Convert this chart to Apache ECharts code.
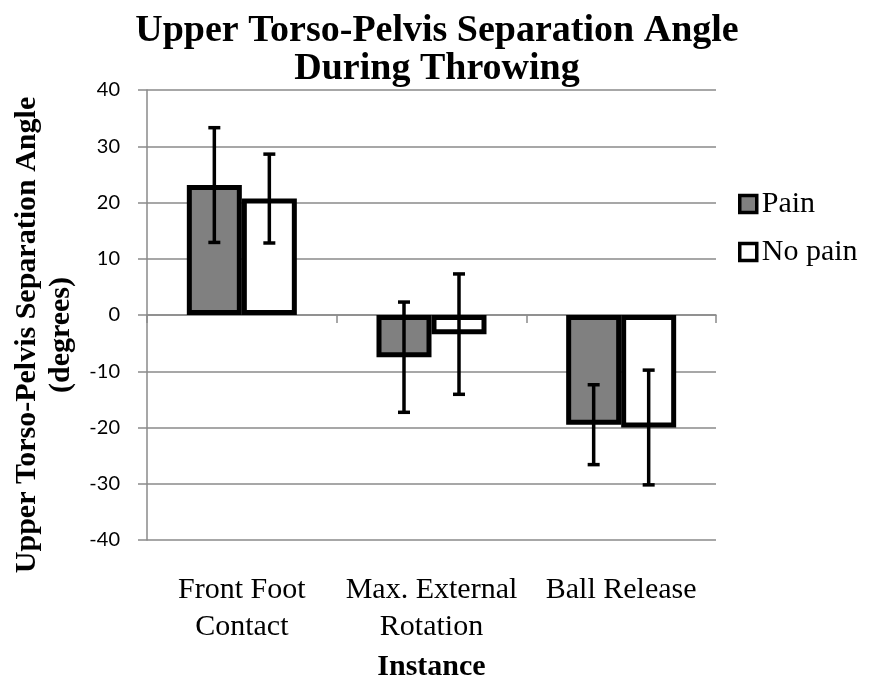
<!DOCTYPE html>
<html>
<head>
<meta charset="utf-8">
<script src="https://cdn.jsdelivr.net/npm/echarts@6/dist/echarts.min.js"></script>
<style>
html,body{margin:0;padding:0;background:#fff;}
#chart{width:870px;height:687px;}
</style>
</head>
<body>
<div id="chart"></div>
<script>
const categories = ['Front Foot\nContact', 'Max. External\nRotation', 'Ball Release'];
const seriesNames = ['Pain', 'No pain'];
const painMean = [23.1, -7.5, -19.5];
const painSD = [10.2, 9.8, 7.1];
const noPainMean = [20.7, -3.4, -20.0];
const noPainSD = [7.9, 10.7, 10.2];
const yTicks = [-40, -30, -20, -10, 0, 10, 20, 30, 40];

const GAP = 0.42;
const serif = '"Liberation Serif", "Times New Roman", serif';
const gridColor = '#8a8a8a';

const errData = [];
painMean.forEach((m, i) => errData.push([i, m, painSD[i], 0]));
noPainMean.forEach((m, i) => errData.push([i, m, noPainSD[i], 1]));

function renderErr(params, api) {
  const cat = api.value(0), mean = api.value(1), sd = api.value(2), s = api.value(3);
  const band = api.size([1, 0])[0];
  const barW = band * (1 - GAP) / 2;
  const off = (s === 0 ? -0.5 : 0.5) * barW;
  const top = api.coord([cat, mean + sd]);
  const bot = api.coord([cat, mean - sd]);
  const x = top[0] + off;
  const cap = 6;
  const st = { stroke: '#000', lineWidth: 3.5 };
  return {
    type: 'group',
    children: [
      { type: 'line', shape: { x1: x, y1: top[1], x2: x, y2: bot[1] }, style: st },
      { type: 'line', shape: { x1: x - cap, y1: top[1], x2: x + cap, y2: top[1] }, style: st },
      { type: 'line', shape: { x1: x - cap, y1: bot[1], x2: x + cap, y2: bot[1] }, style: st }
    ]
  };
}

const chart = echarts.init(document.getElementById('chart'));
chart.setOption({
  animation: false,
  backgroundColor: '#fff',
  title: {
    text: 'Upper Torso-Pelvis Separation Angle\nDuring Throwing',
    left: 432, textAlign: 'center', top: 7,
    textStyle: { fontFamily: serif, fontWeight: 'bold', fontSize: 38, lineHeight: 38, color: '#000' }
  },
  legend: {
    orient: 'vertical', left: 733, top: 184, itemWidth: 17, itemHeight: 17, itemGap: 18,
    textStyle: { fontFamily: serif, fontSize: 30, color: '#000' },
    data: [
      { name: seriesNames[0], icon: 'rect', itemStyle: { color: '#808080', borderColor: '#000', borderWidth: 3.5 } },
      { name: seriesNames[1], icon: 'rect', itemStyle: { color: '#fff', borderColor: '#000', borderWidth: 3.5 } }
    ]
  },
  grid: { left: 147, right: 154, top: 90, bottom: 145, containLabel: false },
  xAxis: [
    {
      type: 'category', data: categories, position: 'bottom',
      axisLine: { onZero: true, lineStyle: { color: gridColor, width: 1.5 } },
      axisTick: { show: true, length: 8, lineStyle: { color: gridColor, width: 1.5 } },
      axisLabel: { show: false }
    },
    {
      type: 'category', data: categories, position: 'bottom',
      axisLine: { show: false, onZero: false }, axisTick: { show: false },
      axisLabel: { margin: 32, fontFamily: serif, fontSize: 30, lineHeight: 37, color: '#000', interval: 0 },
      name: 'Instance', nameLocation: 'middle', nameGap: 112,
      nameTextStyle: { fontFamily: serif, fontWeight: 'bold', fontSize: 30, color: '#000' }
    }
  ],
  yAxis: {
    type: 'value', min: -40, max: 40, interval: 10,
    axisLine: { show: true, lineStyle: { color: gridColor, width: 1.5 } },
    axisTick: { show: true, length: 9, lineStyle: { color: gridColor, width: 1.5 } },
    splitLine: { show: true, lineStyle: { color: gridColor, width: 1.5 } },
    axisLabel: { margin: 27, fontFamily: 'Lato, "Liberation Sans", sans-serif', fontSize: 20, color: '#000',
      formatter: v => yTicks.includes(v) ? String(v) : '' },
    name: 'Upper Torso-Pelvis Separation Angle\n(degrees)', nameLocation: 'middle', nameRotate: 90, nameGap: 66,
    nameTextStyle: { fontFamily: serif, fontWeight: 'bold', fontSize: 30, lineHeight: 34, color: '#000', padding: [0, 40, 0, 0] }
  },
  series: [
    {
      name: seriesNames[0], type: 'bar', xAxisIndex: 0, data: painMean,
      barGap: '0%', barCategoryGap: (GAP * 100) + '%',
      itemStyle: { color: '#808080', borderColor: '#000', borderWidth: 5 }, z: 3
    },
    {
      name: seriesNames[1], type: 'bar', xAxisIndex: 0, data: noPainMean,
      barGap: '0%', barCategoryGap: (GAP * 100) + '%',
      itemStyle: { color: '#fff', borderColor: '#000', borderWidth: 5 }, z: 3
    },
    {
      type: 'custom', xAxisIndex: 0, renderItem: renderErr, data: errData, z: 5,
      encode: { x: 0, y: 1 }, silent: true
    }
  ]
});
</script>
</body>
</html>
